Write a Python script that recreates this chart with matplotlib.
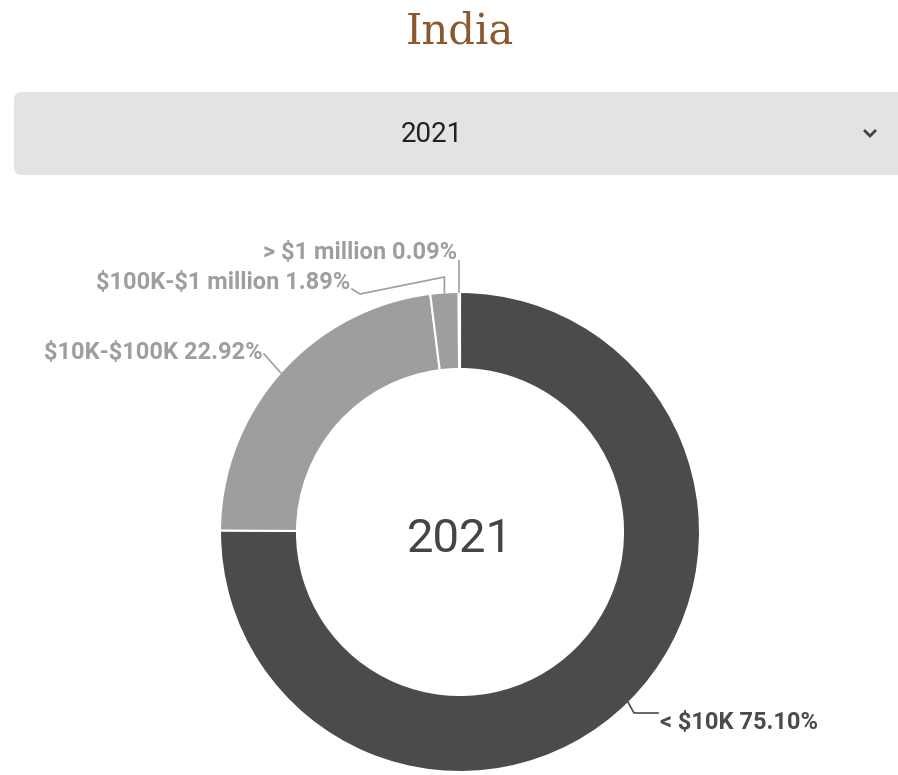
import numpy as np
import matplotlib
matplotlib.use("Agg")
import matplotlib.pyplot as plt
from matplotlib.patches import FancyBboxPatch

plt.rcParams["text.parse_math"] = False

# Wealth distribution of adults, India, 2021
categories = ["< $10K", "$10K-$100K", "$100K-$1 million", "> $1 million"]
shares = [75.10, 22.92, 1.89, 0.09]
colors = ["#4b4b4b", "#9e9e9e", "#9e9e9e", "#bdbdbd"]
year = "2021"
country = "India"

W, H = 898, 775
fig = plt.figure(figsize=(W / 100, H / 100), dpi=100)
ax = fig.add_axes([0, 0, 1, 1])

# image-style y (top = 0) -> data y
def Y(y):
    return H - y

cx, cy = 460, Y(532)
R, width = 240, 77

wedges, _ = ax.pie(shares, colors=colors, startangle=90, counterclock=False,
                   center=(cx, cy), radius=R,
                   wedgeprops=dict(width=width, edgecolor="white", linewidth=1.5))
ax.set_xlim(0, W)
ax.set_ylim(0, H)
ax.set_aspect("equal")
ax.axis("off")

# Title
ax.text(460, Y(32), country, ha="center", va="center", fontsize=30,
        family="DejaVu Serif", color="#8a5a2e")

# Year selector box
box = FancyBboxPatch((14, Y(175)), 900, 83, boxstyle="round,pad=0,rounding_size=8",
                     facecolor="#e3e3e3", edgecolor="none")
ax.add_patch(box)
ax.text(432, Y(134), year, ha="center", va="center", fontsize=20,
        family="Roboto", color="#222222")
ax.plot([864, 870, 876], [Y(130), Y(136), Y(130)], color="#444444", lw=2.0,
        solid_capstyle="butt", solid_joinstyle="miter")

# Center label
ax.text(cx, Y(539), year, ha="center", va="center", fontsize=34,
        family="Roboto", color="#444444")


def anchor(w, rfac=1.0):
    th = np.deg2rad((w.theta1 + w.theta2) / 2)
    return cx + R * rfac * np.cos(th), cy + R * rfac * np.sin(th)

lc = "#9e9e9e"
lfont = dict(family="Roboto", fontweight="bold", fontsize=17)

# > $1 million
ax0, ay0 = anchor(wedges[3])
ax.plot([ax0, ax0], [ay0, Y(261)], color=lc, lw=1.2)
ax.text(457, Y(252), f"{categories[3]} {shares[3]:.2f}%", ha="right", va="center",
        color=lc, **lfont)

# $100K-$1 million
ax1, ay1 = anchor(wedges[2])
ax.plot([ax1, ax1, 360, 352], [ay1, Y(277), Y(294), Y(289)], color=lc, lw=1.2)
ax.text(350, Y(282), f"{categories[2]} {shares[2]:.2f}%", ha="right", va="center",
        color=lc, **lfont)

# $10K-$100K
ax2, ay2 = anchor(wedges[1])
ax.plot([ax2, 264], [ay2, Y(354)], color=lc, lw=1.2)
ax.text(263, Y(352), f"{categories[1]} {shares[1]:.2f}%", ha="right", va="center",
        color=lc, **lfont)

# < $10K
ax3, ay3 = anchor(wedges[0], 0.985)
ax.plot([ax3, 634, 658], [ay3, Y(713), Y(713)], color="#4b4b4b", lw=1.2)
ax.text(660, Y(722), f"{categories[0]} {shares[0]:.2f}%", ha="left", va="center",
        color="#4b4b4b", **lfont)

fig.savefig("out.png", dpi=100, facecolor="white")
